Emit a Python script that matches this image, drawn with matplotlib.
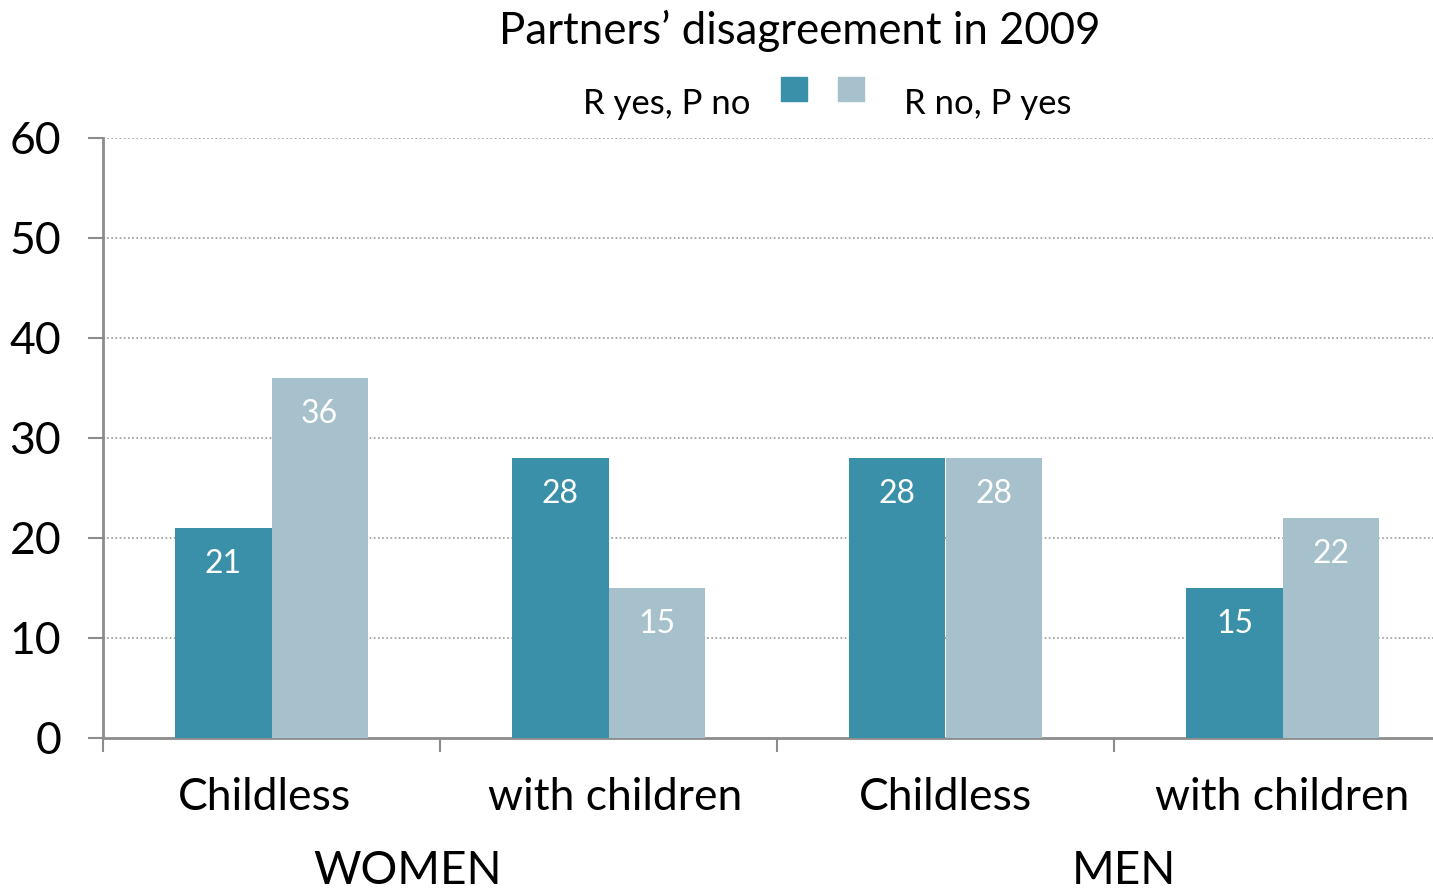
import matplotlib.pyplot as plt
from matplotlib.patches import Rectangle
import numpy as np

plt.rcParams['font.family'] = ['Lato', 'DejaVu Sans']

# Partners' disagreement in 2009 (percent)
categories = ["Childless", "with children", "Childless", "with children"]
groups = ["WOMEN", "MEN"]
r_yes_p_no = [21, 28, 28, 15]
r_no_p_yes = [36, 15, 28, 22]
series_names = ["R yes, P no", "R no, P yes"]

dark = "#3A90A8"
light = "#A6C1CB"
grey = "#8C8C8C"

fig = plt.figure(figsize=(14.33, 8.92), dpi=100)
ax = fig.add_axes([103/1433, 154/892, 1348/1433, 600/892])

x = np.arange(len(categories))
w = 0.285
b1 = ax.bar(x - w/2, r_yes_p_no, w, color=dark, zorder=3)
b2 = ax.bar(x + w/2, r_no_p_yes, w, color=light, zorder=3)

for bars, vals in ((b1, r_yes_p_no), (b2, r_no_p_yes)):
    for bar, v in zip(bars, vals):
        ax.text(bar.get_x() + bar.get_width()/2, v - 3.6, str(v),
                ha="center", va="center", color="white", fontsize=23, zorder=4)

ax.set_xlim(-0.5, 3.5)
ax.set_ylim(0, 60)
ax.set_yticks(range(0, 61, 10))
ax.tick_params(axis="y", labelsize=32, length=11, width=1.5, color=grey, pad=19)
ax.set_xticks(np.arange(-0.5, 3.0, 1.0))
ax.set_xticklabels([])
ax.tick_params(axis="x", length=10, width=1.5, color=grey)
for gl in range(10, 61, 10):
    ax.axhline(gl, color="#999999", lw=1.2, ls=(0, (1, 1.5)), zorder=1)

for s in ("top", "right"):
    ax.spines[s].set_visible(False)
for s in ("left", "bottom"):
    ax.spines[s].set_color(grey)
    ax.spines[s].set_linewidth(2)

label_shift = [-0.02, 0.02, 0, 0]
for xi, lab, dx in zip(x, categories, label_shift):
    ax.text(xi + dx, -6.0, lab, ha="center", va="center", fontsize=32)
ax.text(0.405, -13.3, groups[0], ha="center", va="center", fontsize=33)
ax.text(2.53, -13.3, groups[1], ha="center", va="center", fontsize=33)

fig.text(800/1433, 1 - 31/892, "Partners\u2019 disagreement in 2009",
         ha="center", va="center", fontsize=31.5)

# legend
fig.text(750/1433, 1 - 104/892, series_names[0], ha="right", va="center", fontsize=25)
fig.text(904/1433, 1 - 104/892, series_names[1], ha="left", va="center", fontsize=25)
fig.patches.append(Rectangle((781/1433, 1 - 101/892), 26/1433, 24/892,
                             transform=fig.transFigure, color=dark, figure=fig))
fig.patches.append(Rectangle((838/1433, 1 - 101/892), 26/1433, 24/892,
                             transform=fig.transFigure, color=light, figure=fig))

fig.savefig("out.png", dpi=100)
